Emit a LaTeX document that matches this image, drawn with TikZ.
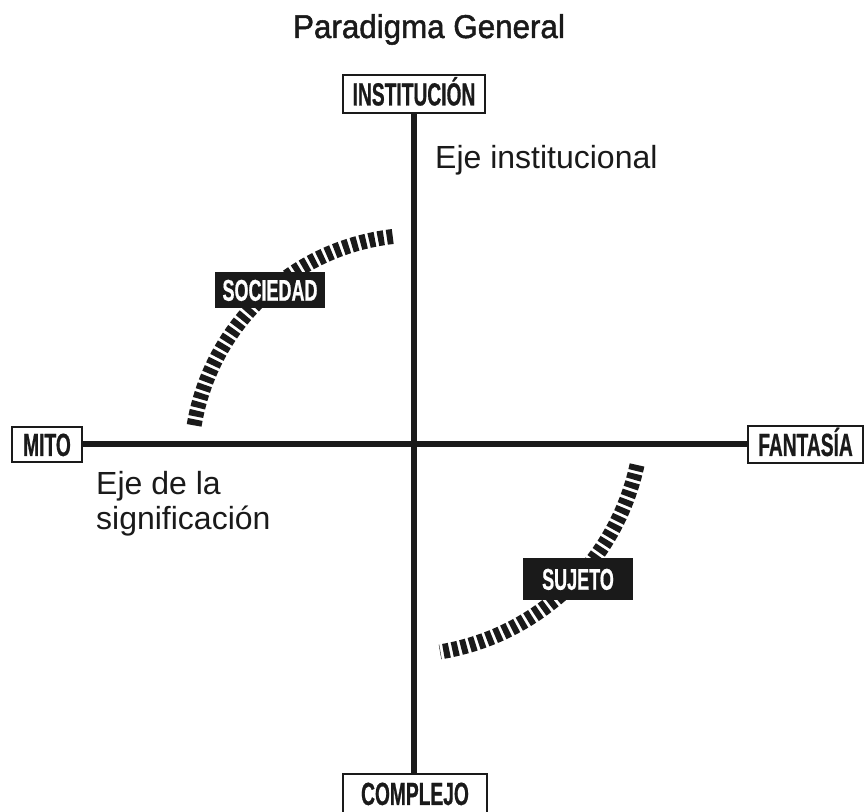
\documentclass[tikz,border=0pt]{standalone}
\usepackage{fontspec}
\setmainfont{Liberation Sans}
\newfontfamily\labfont{Liberation Sans}[FakeStretch=0.6,FakeBold=0.6]
\newfontfamily\titfont{Liberation Sans}[FakeStretch=0.95,FakeBold=1.5]
\definecolor{ink}{HTML}{1A1A1A}
\tikzset{
  labeltext/.style={inner sep=0pt, text=ink,
    font=\labfont\bfseries\fontsize{32}{38}\selectfont,
    text height=22.9pt, text depth=0pt},
  axisbox/.style={labeltext, draw=ink, line width=1.6pt, fill=white},
  boxline/.style={draw=ink, line width=1.6pt},
  tagbox/.style={fill=ink, inner sep=0pt, text=white,
    font=\labfont\bfseries\fontsize{30}{36}\selectfont,
    text height=21.5pt, text depth=0pt},
  axisline/.style={draw=ink, line width=6pt},
  dasharc/.style={draw=ink, line width=15pt, dash pattern=on 6pt off 3pt},
  axislabel/.style={inner sep=0pt, text=ink, font=\fontsize{32}{35}\selectfont, anchor=base west},
}
\begin{document}
\begin{tikzpicture}[x=1pt,y=1pt]
\useasboundingbox (0,0) rectangle (864,811);
% title
\node[inner sep=0pt, anchor=base, text=ink, font=\titfont\fontsize{33}{38}\selectfont] (title) at (429,773) {Paradigma General};
% axis boxes
\node[axisbox, minimum width=142pt, minimum height=38pt] (inst) at (414,717) {INSTITUCIÓN};
\node[axisbox, minimum width=70pt, minimum height=35pt] (mito) at (47,366.5) {MITO};
\node[axisbox, minimum width=115pt, minimum height=37pt] (fant) at (805.5,366.5) {FANTASÍA};
% bottom box, cut by the lower edge
\coordinate (comptop) at (415,37);
\fill[white] (343,-2) rectangle (487,37);
\draw[boxline] (343,-2) |- (487,37) -- (487,-2);
\node[labeltext] (comp) at (415,17.5) {COMPLEJO};
% axes
\draw[axisline] (inst.south) -- (inst.south |- comptop);
\draw[axisline] (mito.east) -- (fant.west);
% axis captions
\node[axislabel] (einst) at (435,642) {Eje institucional};
\node[axislabel] (esig1) at (96,316) {Eje de la};
\node[axislabel] (esig2) at (96,281) {significación};
% dashed arcs
\draw[dasharc] (419,348) ++(170.5:228pt) arc[start angle=170.5, end angle=96.6, radius=228pt];
\draw[dasharc] (401,397.5) ++(-12.3:241.6pt) arc[start angle=-12.3, end angle=-80.7, radius=241.6pt];
% tags
\node[tagbox, minimum width=110pt, minimum height=36pt] (soc) at (270,521) {SOCIEDAD};
\node[tagbox, minimum width=110pt, minimum height=42pt] (suj) at (578,232) {SUJETO};
\end{tikzpicture}
\end{document}
